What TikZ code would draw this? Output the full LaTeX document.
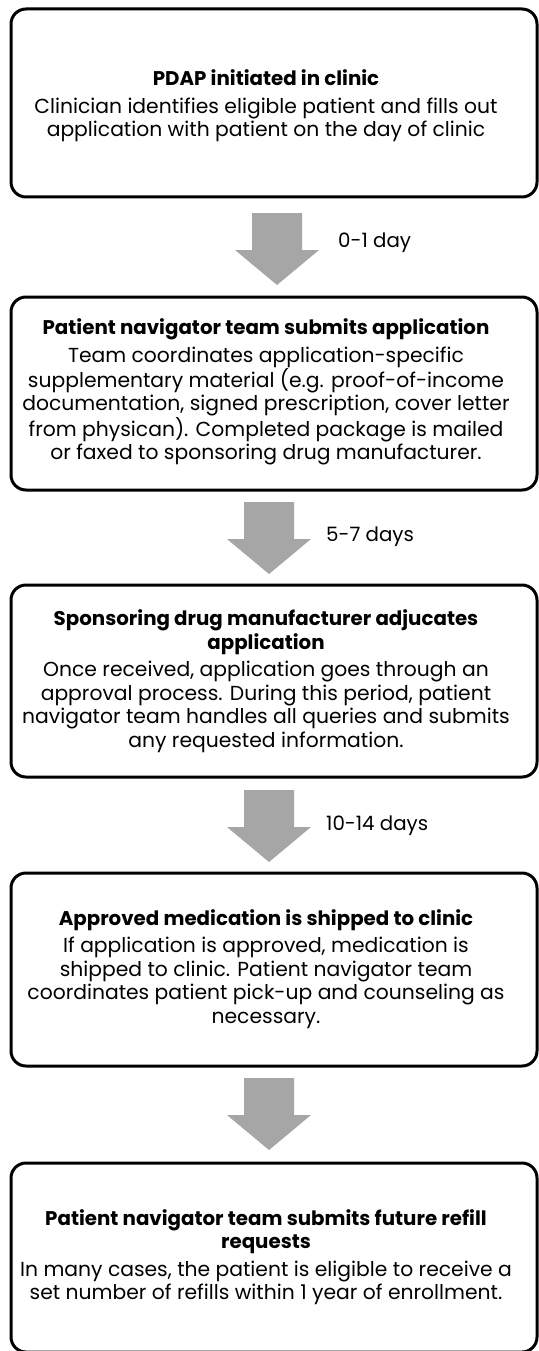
\documentclass[tikz,border=0pt]{standalone}
\usepackage{fontspec}
\setmainfont{Poppins}
\definecolor{arrowgray}{HTML}{A6A6A6}
\newcommand\steptitle[1]{{\fontsize{19.8}{24}\selectfont\bfseries #1}}
\tikzset{
  pics/downarrow/.style={code={
    \fill[arrowgray] (-25,0) -- (25,0) -- (25,37) -- (42,37) -- (0,72)
      -- (-42,37) -- (-25,37) -- cycle;
  }}
}
\begin{document}
\begin{tikzpicture}[x=1pt,y=-1pt,
  stepbox/.style={draw=black, line width=3pt, rounded corners=15pt,
    minimum width=526pt, inner sep=0pt},
  steptext/.style={align=center, inner sep=0pt,
    font=\fontsize{20.3}{23.5}\selectfont},
  daylabel/.style={anchor=west, inner sep=0pt,
    font=\fontsize{19.8}{23.5}\selectfont}]
\useasboundingbox (0,0) rectangle (538,1351);

% step boxes
\node[stepbox, minimum height=188pt] (b1) at (274,103) {};
\node[stepbox, minimum height=193pt] (b2) at (274,393.5) {};
\node[stepbox, minimum height=192pt] (b3) at (274,681) {};
\node[stepbox, minimum height=193pt] (b4) at (274,969.5) {};
\node[stepbox, minimum height=189pt] (b5) at (274,1257.5) {};

% step texts
\node[steptext] (t1) at (266,106) {\steptitle{PDAP initiated in clinic}\\[4pt]
  Clinician identifies eligible patient and fills out\\
  application with patient on the day of clinic};
\node[steptext] (t2) at (266,392) {\steptitle{Patient navigator team submits application}\\[4pt]
  Team coordinates application-specific\\
  supplementary material (e.g. proof-of-income\\
  documentation, signed prescription, cover letter\\
  from physican). Completed package is mailed\\
  or faxed to sponsoring drug manufacturer.};
\node[steptext] (t3) at (266,681) {\steptitle{Sponsoring drug manufacturer adjucates}\\
  \steptitle{application}\\[4pt]
  Once received, application goes through an\\
  approval process. During this period, patient\\
  navigator team handles all queries and submits\\
  any requested information.};
\node[steptext] (t4) at (266,969) {\steptitle{Approved medication is shipped to clinic}\\[4pt]
  If application is approved, medication is\\
  shipped to clinic. Patient navigator team\\
  coordinates patient pick-up and counseling as\\
  necessary.};
\node[steptext] (t5) at (266,1257) {\steptitle{Patient navigator team submits future refill}\\
  \steptitle{requests}\\[4pt]
  In many cases, the patient is eligible to receive a\\
  set number of refills within 1 year of enrollment.};

% block arrows between steps
\pic (a1) at (277,213) {downarrow};
\pic (a2) at (269,502) {downarrow};
\pic (a3) at (269,790) {downarrow};
\pic (a4) at (269,1078) {downarrow};

% duration labels
\node[daylabel] (l1) at (338,243) {0-1 day};
\node[daylabel] (l2) at (326,537) {5-7 days};
\node[daylabel] (l3) at (326,826) {10-14 days};
\end{tikzpicture}
\end{document}
